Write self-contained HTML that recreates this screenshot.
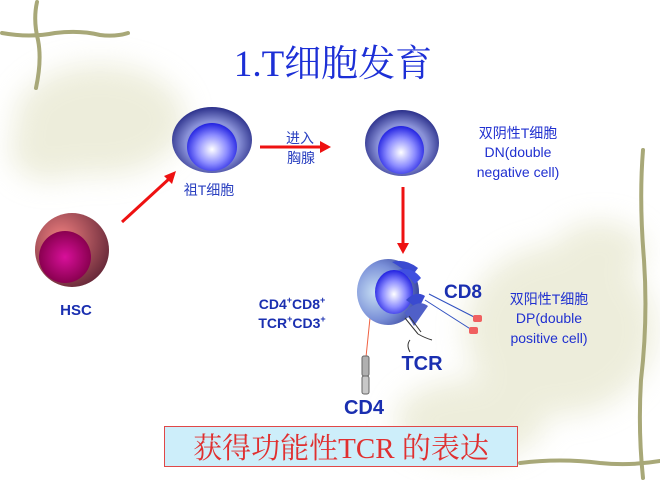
<!DOCTYPE html>
<html><head><meta charset="utf-8"><style>
body{margin:0;width:660px;height:480px;overflow:hidden;background:#fff;}
svg{display:block}
</style></head><body>
<svg width="660" height="480" viewBox="0 0 660 480" xmlns="http://www.w3.org/2000/svg">
<defs>
<filter id="bl" x="-50%" y="-50%" width="200%" height="200%"><feGaussianBlur stdDeviation="14"/></filter>
<radialGradient id="cellO" cx="0.5" cy="0.55" r="0.55"><stop offset="0.6" stop-color="#8a92d8"/><stop offset="1" stop-color="#2a2f8a"/></radialGradient>
<radialGradient id="nuc" cx="0.5" cy="0.55" r="0.55"><stop offset="0" stop-color="#ffffff"/><stop offset="0.55" stop-color="#8c8cff"/><stop offset="1" stop-color="#2020e0"/></radialGradient>
<radialGradient id="hscO" cx="0.35" cy="0.35" r="0.7"><stop offset="0" stop-color="#f08080"/><stop offset="1" stop-color="#6a2a3a"/></radialGradient>
<radialGradient id="hscN" cx="0.5" cy="0.5" r="0.5"><stop offset="0" stop-color="#d8109a"/><stop offset="1" stop-color="#8a0050"/></radialGradient>
<radialGradient id="dpO" cx="0.3" cy="0.5" r="0.7"><stop offset="0" stop-color="#c8e0f4"/><stop offset="0.6" stop-color="#7a90d8"/><stop offset="1" stop-color="#3a48a0"/></radialGradient>
</defs>
<!-- background blobs -->
<g filter="url(#bl)" fill="#dcdcb8" opacity="0.5">
<ellipse cx="100" cy="120" rx="85" ry="55"/>
<ellipse cx="50" cy="150" rx="40" ry="30"/>
<ellipse cx="560" cy="330" rx="95" ry="85"/>
<ellipse cx="470" cy="420" rx="75" ry="40"/>
<ellipse cx="600" cy="250" rx="45" ry="28"/>
</g>
<g fill="none" stroke="#a8a878" stroke-width="4" stroke-linecap="round">
<path d="M37 2 Q33 20 38 40 Q42 60 36 88"/>
<path d="M2 33 Q30 38 55 33 Q80 30 100 35 Q115 37 128 33"/>
<path d="M643 150 Q639 200 644 260 Q648 320 641 380 Q638 430 643 478"/>
<path d="M520 463 Q560 458 600 463 Q630 466 660 461"/>
</g>
<!-- title -->
<text x="333" y="76" text-anchor="middle" font-family="'Liberation Serif','Noto Serif CJK SC',serif" font-size="37" fill="#1c2fd6">1.T细胞发育</text>
<!-- HSC -->
<circle cx="72" cy="250" r="37" fill="url(#hscO)"/>
<circle cx="65" cy="257" r="26" fill="url(#hscN)"/>
<text x="76" y="315" text-anchor="middle" font-family="'Liberation Sans',sans-serif" font-weight="bold" font-size="15" fill="#1a2fb0">HSC</text>
<!-- cell1 -->
<ellipse cx="212" cy="140" rx="40" ry="33" fill="url(#cellO)"/>
<ellipse cx="212" cy="147" rx="25" ry="24" fill="url(#nuc)"/>
<text x="209" y="195" text-anchor="middle" font-family="'Liberation Sans','Noto Sans CJK SC',sans-serif" font-size="14" fill="#2a40c0">祖T细胞</text>
<!-- cell2 -->
<ellipse cx="402" cy="143" rx="37" ry="33" fill="url(#cellO)"/>
<ellipse cx="401" cy="150" rx="23" ry="24" fill="url(#nuc)"/>
<!-- arrows -->
<g stroke="#ee1111" stroke-width="3" fill="#ee1111">
<line x1="122" y1="222" x2="170" y2="178"/>
<line x1="260" y1="147" x2="322" y2="147"/>
<line x1="403" y1="187" x2="403" y2="245"/>
</g>
<g fill="#ee1111" stroke="none">
<polygon points="176,171 164,176 172,184"/>
<polygon points="331,147 320,141 320,153"/>
<polygon points="403,254 397,243 409,243"/>
</g>
<text x="300" y="143" text-anchor="middle" font-family="'Liberation Sans','Noto Sans CJK SC',sans-serif" font-size="14" fill="#2a40c0">进入</text>
<text x="301" y="163" text-anchor="middle" font-family="'Liberation Sans','Noto Sans CJK SC',sans-serif" font-size="14" fill="#2a40c0">胸腺</text>
<g font-family="'Liberation Sans','Noto Sans CJK SC',sans-serif" font-size="14" fill="#2030d0" text-anchor="middle">
<text x="518" y="138">双阴性T细胞</text>
<text x="518" y="157">DN(double</text>
<text x="518" y="177">negative cell)</text>
<text x="549" y="304">双阳性T细胞</text>
<text x="549" y="323">DP(double</text>
<text x="549" y="343">positive cell)</text>
</g>
<!-- DP cell -->
<line x1="370" y1="318" x2="366" y2="357" stroke="#f06040" stroke-width="1"/>
<rect x="362" y="356" width="7" height="20" rx="2" fill="#b0b0b0" stroke="#666" stroke-width="1"/>
<rect x="362" y="376" width="7" height="18" rx="2" fill="#c8c8c8" stroke="#666" stroke-width="1"/>
<ellipse cx="388" cy="292" rx="31" ry="33" fill="url(#dpO)"/>
<ellipse cx="394" cy="292" rx="19" ry="22" fill="url(#nuc)"/>
<path d="M392 262 Q405 258 418 268 L412 276 Q402 268 392 262Z" fill="#3a4ad0"/>
<path d="M398 270 Q412 266 421 278 L415 284 Q407 274 398 270Z" fill="#4050e0"/>
<path d="M406 300 Q416 290 425 296 L418 310 Q412 304 406 300Z" fill="#3a4ad0"/>
<path d="M404 313 Q418 298 428 306 L414 326 Q410 318 404 313Z" fill="#5060c8"/>
<g stroke="#333" stroke-width="1" fill="none">
<line x1="405" y1="318" x2="418" y2="334"/><line x1="409" y1="316" x2="421" y2="332"/>
<path d="M410 340 Q406 345 410 352"/><path d="M418 334 Q425 338 432 340"/>
</g>
<g stroke="#3050c0" stroke-width="1">
<line x1="429" y1="294" x2="476" y2="318"/><line x1="425" y1="300" x2="472" y2="330"/>
</g>
<rect x="473" y="315" width="9" height="7" rx="2" fill="#f06060"/>
<rect x="469" y="327" width="9" height="7" rx="2" fill="#f06060"/>
<g font-family="'Liberation Sans',sans-serif" font-weight="bold" fill="#1a2fb0">
<text x="292" y="309" text-anchor="middle" font-size="14">CD4<tspan font-size="9" dy="-6">+</tspan><tspan dy="6">CD8</tspan><tspan font-size="9" dy="-6">+</tspan></text>
<text x="292" y="328" text-anchor="middle" font-size="14">TCR<tspan font-size="9" dy="-6">+</tspan><tspan dy="6">CD3</tspan><tspan font-size="9" dy="-6">+</tspan></text>
<text x="463" y="298" text-anchor="middle" font-size="19">CD8</text>
<text x="422" y="370" text-anchor="middle" font-size="20">TCR</text>
<text x="364" y="414" text-anchor="middle" font-size="20">CD4</text>
</g>
<!-- bottom box -->
<rect x="164.5" y="426.5" width="353" height="40" fill="#cdeefa" stroke="#e04848" stroke-width="1"/>
<text x="341" y="458" text-anchor="middle" font-family="'Liberation Serif','Noto Serif CJK SC',serif" font-size="29" fill="#e03030">获得功能性TCR 的表达</text>
</svg>
</body></html>
